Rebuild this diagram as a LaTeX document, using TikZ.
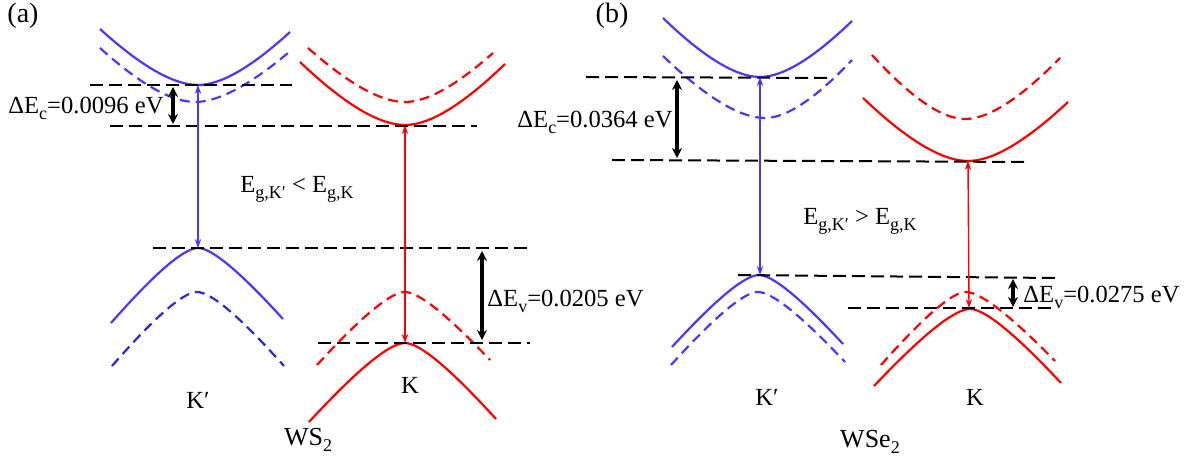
\documentclass[tikz,border=0pt]{standalone}
\usepackage{fontspec}
\setmainfont{Liberation Serif}
\usetikzlibrary{arrows.meta}
\definecolor{bandblue}{RGB}{75,55,250}
\definecolor{bandbluedk}{RGB}{40,40,225}
\definecolor{bandred}{RGB}{255,0,0}
\tikzset{
 cb/.style={line width=1.1pt},
 cbd/.style={line width=1.1pt, dash pattern=on 5pt off 3pt},
 level/.style={black, line width=1pt, dash pattern=on 6.5pt off 3pt},
 gaparrow/.style={line width=0.7pt, {Stealth[length=4.5pt,width=3.2pt]}-{Stealth[length=4.5pt,width=3.2pt]}},
 deltaarrow/.style={black, line width=1.6pt, {Stealth[length=5pt,width=5pt]}-{Stealth[length=5pt,width=5pt]}},
 lab/.style={font=\fontsize{12.3}{14}\selectfont, inner sep=0pt},
 biglab/.style={font=\fontsize{13}{15}\selectfont, inner sep=0pt},
}
\newcommand{\lowsub}[1]{\raisebox{-0.45ex}{\fontsize{9}{10}\selectfont #1}}
\newcommand{\bandcurve}[8]{%
 \draw[#1] (#2,#3) .. controls ({#2+2*#8/3*(#4-#2)},{#3+2/3*(#5-#3)}) and ({#4-2/3*(1-#8)*(#4-#2)},#5) .. (#4,#5)
  .. controls ({#4+2/3*(1-#8)*(#6-#4)},#5) and ({#6+2*#8/3*(#4-#6)},{#7+2/3*(#5-#7)}) .. (#6,#7);}
\begin{document}
\begin{tikzpicture}[x=0.5pt,y=-0.5pt]
\useasboundingbox (0,0) rectangle (1195,464);

% ================= panel (a) =================
\node[lab, font=\fontsize{14}{16}\selectfont] (alabel) at (23,16) {(a)};
% conduction bands
\bandcurve{cb, bandblue}{100}{29}{198}{85}{290}{32}{0.63}
\bandcurve{cbd, bandblue}{100}{48}{195}{102}{288}{53}{0.63}
\bandcurve{cb, bandred}{300}{62}{405}{125}{505}{64}{0.63}
\bandcurve{cbd, bandred}{308}{48}{405}{102}{493}{53}{0.63}
% valence bands
\bandcurve{cb, bandblue}{111}{323}{198}{248}{283}{319}{0.76}
\bandcurve{cbd, bandbluedk}{112}{366}{197}{292}{284}{366}{0.76}
\bandcurve{cbd, bandred}{317}{365}{405}{292}{490}{360}{0.76}
\bandcurve{cb, bandred}{309}{422}{405}{343}{496}{419}{0.76}
% levels
\draw[level] (90,85) -- (292,85);
\draw[level] (110,126) -- (477,126);
\draw[level] (153,248) -- (533,248);
\draw[level] (318,343) -- (530,343);
% named points
\coordinate (aKpC) at (198,85);
\coordinate (aKpV) at (198,248);
\coordinate (aKC) at (405,125);
\coordinate (aKV) at (405,343);
\coordinate (aDcT) at (173,87);
\coordinate (aDcB) at (173,124);
\coordinate (aDvT) at (482,251);
\coordinate (aDvB) at (482,340);
% arrows
\draw[gaparrow, bandblue] (aKpC) -- (aKpV);
\draw[gaparrow, bandred] (aKC) -- (aKV);
\draw[deltaarrow] (aDcT) -- (aDcB);
\draw[deltaarrow] (aDvT) -- (aDvB);
% labels
\node[lab, anchor=base west] (aDc) at (8,114) {ΔE\lowsub{c}=0.0096 eV};
\node[lab, anchor=base west] (aDv) at (487,307) {ΔE\lowsub{v}=0.0205 eV};
\node[lab, anchor=base] (aEg) at (297,193) {E\lowsub{g,K′} < E\lowsub{g,K}};
\node[lab] (aKp) at (198,400) {K′};
\node[lab] (aK) at (410,385) {K};
\node[biglab] (aWS) at (308,440) {WS\lowsub{2}};

% ================= panel (b) =================
\node[lab, font=\fontsize{14}{16}\selectfont] (blabel) at (612,16) {(b)};
% conduction bands
\bandcurve{cb, bandblue}{663}{18}{760}{77}{852}{21}{0.63}
\bandcurve{cbd, bandblue}{663}{56}{765}{118}{852}{60}{0.63}
\bandcurve{cb, bandred}{863}{98}{968}{161}{1068}{102}{0.63}
\bandcurve{cbd, bandred}{872}{55}{965}{119}{1060}{58}{0.63}
% valence bands
\bandcurve{cb, bandblue}{672}{347}{759}{275}{843}{344}{0.76}
\bandcurve{cbd, bandblue}{671}{365}{758}{292}{845}{362}{0.76}
\bandcurve{cb, bandred}{874}{386}{970}{309}{1061}{383}{0.76}
\bandcurve{cbd, bandred}{881}{365}{966}{292}{1055}{361}{0.76}
% levels
\draw[level] (586,77) -- (833,78);
\draw[level] (612,160) -- (1028,162);
\draw[level] (738,275) -- (1055,278);
\draw[level] (848,308) -- (1055,308);
% named points
\coordinate (bKpC) at (760,77);
\coordinate (bKpV) at (760,275);
\coordinate (bKC) at (968,161);
\coordinate (bKV) at (969,308);
\coordinate (bDcT) at (677,80);
\coordinate (bDcB) at (677,158);
\coordinate (bDvT) at (1013,279);
\coordinate (bDvB) at (1013,307);
% arrows
\draw[gaparrow, bandblue] (bKpC) -- (bKpV);
\draw[gaparrow, bandred] (bKC) -- (bKV);
\draw[deltaarrow] (bDcT) -- (bDcB);
\draw[deltaarrow] (bDvT) -- (bDvB);
% labels
\node[lab, anchor=base west] (bDc) at (517,128) {ΔE\lowsub{c}=0.0364 eV};
\node[lab, anchor=base west] (bDv) at (1023,303) {ΔE\lowsub{v}=0.0275 eV};
\node[lab, anchor=base] (bEg) at (860,225) {E\lowsub{g,K′} > E\lowsub{g,K}};
\node[lab] (bKp) at (767,397) {K′};
\node[lab] (bK) at (975,397) {K};
\node[biglab] (bWS) at (870,442) {WSe\lowsub{2}};
\end{tikzpicture}
\end{document}
